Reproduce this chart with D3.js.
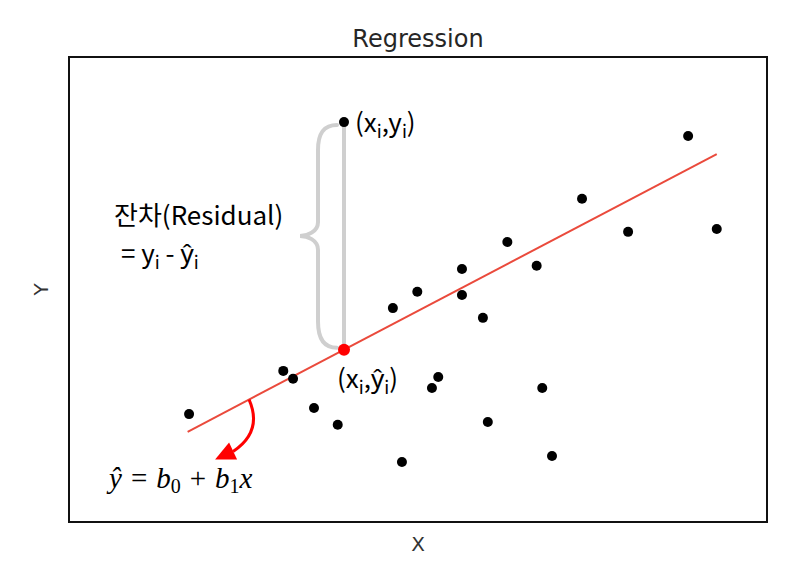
<!DOCTYPE html>
<html><head><meta charset="utf-8">
<script src="https://cdn.jsdelivr.net/npm/d3@7"></script>
<style>body{margin:0;background:#fff}svg{display:block}</style>
</head><body>
<svg id="c" width="793" height="568"></svg>
<script>
// data (arbitrary units, no ticks shown)
const xs = [1.72,3.07,3.21,3.51,3.85,4.64,4.77,4.99,5.20,5.29,5.63,5.63,5.93,6.00,6.28,6.70,6.78,6.92,7.35,8.01,8.87,9.28];
const ys = [2.32,3.25,3.08,2.45,2.09,4.60,1.29,4.95,2.88,3.12,5.44,4.88,4.39,2.15,6.02,5.51,2.88,1.42,6.95,6.24,8.30,6.30];
const highlight = {x:3.94, y:8.60};
const lineCoef = {b0:0.60, b1:0.788};
const lineX = [1.70, 9.28];
const xDomain = [0,10], yDomain = [0,10];

const svg = d3.select("#c");
const L=69, R=767, T=57, B=522;
const x = d3.scaleLinear().domain(xDomain).range([L,R]);
const y = d3.scaleLinear().domain(yDomain).range([B,T]);
const fit = v => lineCoef.b0 + lineCoef.b1*v;

// title & axis labels
svg.append("text").attr("x",(L+R)/2).attr("y",47).attr("text-anchor","middle")
  .attr("font-family","DejaVu Sans").attr("font-size",24).attr("fill","#262626").text("Regression");
svg.append("text").attr("x",(L+R)/2).attr("y",551).attr("text-anchor","middle")
  .attr("font-family","DejaVu Sans").attr("font-size",20).attr("fill","#333").text("X");
svg.append("text").attr("transform",`translate(48,${(T+B)/2}) rotate(-90)`).attr("text-anchor","middle")
  .attr("font-family","DejaVu Sans").attr("font-size",20).attr("fill","#333").text("Y");

// frame
svg.append("rect").attr("x",L).attr("y",T).attr("width",R-L).attr("height",B-T)
  .attr("fill","none").attr("stroke","#111").attr("stroke-width",2);

// residual segment
const hx = x(highlight.x), hy = y(highlight.y), fy = y(fit(highlight.x));
svg.append("line").attr("x1",hx).attr("x2",hx).attr("y1",hy).attr("y2",fy)
  .attr("stroke","#cfcfcf").attr("stroke-width",4);

// brace
const bx = hx-7, mid=(hy+fy)/2;
const brace = `M${bx},${hy+3} C${bx-14},${hy+3} ${bx-19},${hy+12} ${bx-19},${hy+28}
 L${bx-19},${mid-14} C${bx-19},${mid-4} ${bx-30},${mid} ${bx-37},${mid}
 C${bx-30},${mid} ${bx-19},${mid+4} ${bx-19},${mid+14}
 L${bx-19},${fy-28} C${bx-19},${fy-12} ${bx-14},${fy-2} ${bx},${fy-2}`;
svg.append("path").attr("d",brace).attr("fill","none").attr("stroke","#cfcfcf").attr("stroke-width",4)
  .attr("stroke-linecap","round");

// regression line
svg.append("line").attr("x1",x(lineX[0])).attr("y1",y(fit(lineX[0])))
  .attr("x2",x(lineX[1])).attr("y2",y(fit(lineX[1])))
  .attr("stroke","#ea4a3c").attr("stroke-width",2);

// points
svg.selectAll("circle.pt").data(xs.map((v,i)=>[v,ys[i]])).enter().append("circle")
  .attr("class","pt").attr("cx",d=>x(d[0])).attr("cy",d=>y(d[1])).attr("r",5).attr("fill","#000");
svg.append("circle").attr("cx",hx).attr("cy",hy).attr("r",5).attr("fill","#000");
svg.append("circle").attr("cx",hx).attr("cy",fy).attr("r",6).attr("fill","#ff0000");

// arrow
const ax = x(2.58), ay = y(fit(2.58));
svg.append("path").attr("d",`M${ax},${ay} Q${ax+14},${ay+32} ${ax-16},${ay+52}`)
  .attr("fill","none").attr("stroke","#ff0000").attr("stroke-width",3);
svg.append("path").attr("d",`M${ax-34},${ay+60} L${ax-12},${ay+60} L${ax-20},${ay+43} Z`).attr("fill","#ff0000");

// labels
const fam = "'Noto Sans CJK KR','Noto Sans',sans-serif";
const FS = 26, SS = 18, SD = 6;
function lab(xp, yp, parts){
  const t = svg.append("text").attr("x",xp).attr("y",yp).attr("font-family",fam).attr("font-size",FS).attr("fill","#000");
  let down = false;
  parts.forEach(p=>{
    const s = t.append("tspan").text(p.s);
    if(p.sub){ s.attr("font-size",SS).attr("dy",SD); down = true; }
    else if(down){ s.attr("dy",-SD); down=false; }
  });
  return t;
}
lab(hx+11, hy+10, [{s:"(x"},{s:"i",sub:1},{s:",y"},{s:"i",sub:1},{s:")"}]);
lab(hx-7, fy+38, [{s:"(x"},{s:"i",sub:1},{s:",ŷ"},{s:"i",sub:1},{s:")"}]);
lab(114, 225, [{s:"잔차(Residual)"}]);
lab(121, 263, [{s:"= y"},{s:"i",sub:1},{s:" - ŷ"},{s:"i",sub:1}]);

let t4 = svg.append("text").attr("x",109).attr("y",488).attr("font-family","'Liberation Serif','DejaVu Serif',serif")
  .attr("font-size",29).attr("fill","#000");
t4.append("tspan").text("ŷ").attr("font-style","italic");
t4.append("tspan").text("=").attr("dx",9);
t4.append("tspan").text("b").attr("font-style","italic").attr("dx",9);
t4.append("tspan").text("0").attr("font-size",20).attr("dy",5);
t4.append("tspan").text("+").attr("dy",-5).attr("dx",9);
t4.append("tspan").text("b").attr("font-style","italic").attr("dx",9);
t4.append("tspan").text("1").attr("font-size",20).attr("dy",5);
t4.append("tspan").text("x").attr("font-style","italic").attr("dy",-5);
</script>
</body></html>
